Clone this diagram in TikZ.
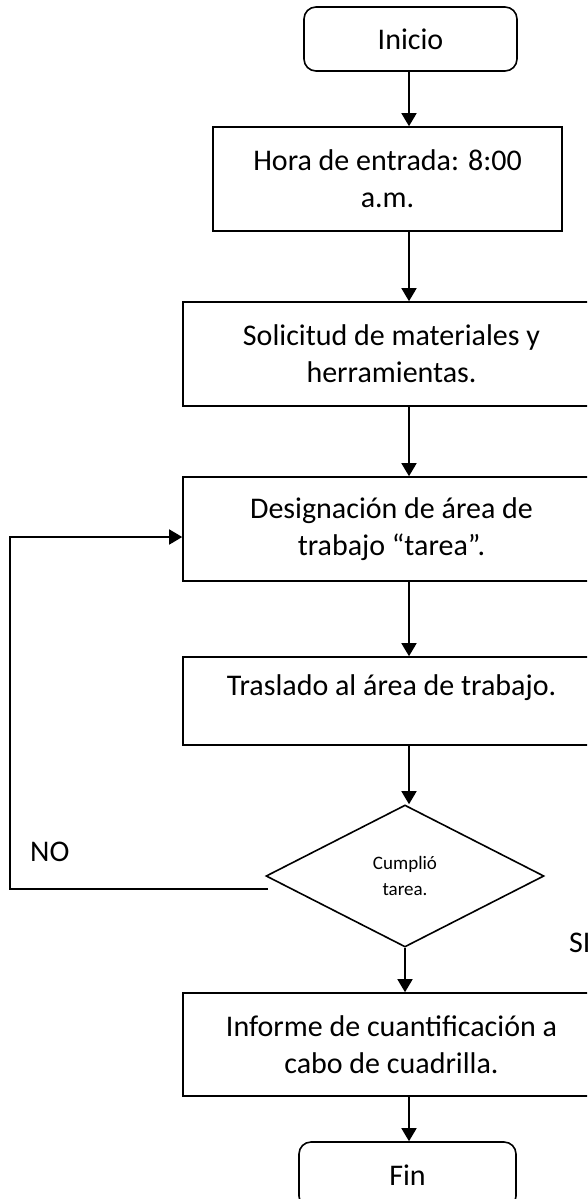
\documentclass[tikz,border=0pt]{standalone}
\usepackage{fontspec}
\setmainfont{Carlito}
\usetikzlibrary{shapes.geometric,arrows.meta}
\begin{document}
\begin{tikzpicture}[x=1pt,y=-1pt,
 box/.style={draw,line width=1.6pt,inner sep=0pt,align=center,font=\fontsize{30}{37}\selectfont},
 term/.style={box,rounded corners=12pt},
 arr/.style={line width=1.6pt,-{Triangle[length=13pt,width=15pt]}},
 lbl/.style={font=\fontsize{30}{37}\selectfont,inner sep=0pt}]
\useasboundingbox (0,0) rectangle (587,1199);
\clip (0,0) rectangle (587,1199);
\coordinate (sp) at (409,0);
\node[term,minimum width=213pt,minimum height=64pt] (ini) at (410.5,39) {Inicio};
\node[box,minimum width=349pt,minimum height=104pt] (hora) at (387.5,179) {Hora de entrada: 8:00\\a.m.};
\node[box,minimum width=417pt,minimum height=104pt] (sol) at (391.5,354) {Solicitud de materiales y\\herramientas.};
\node[box,minimum width=417pt,minimum height=104pt] (des) at (391.5,529) {Designación de área de\\trabajo “tarea”.};
\node[box,minimum width=417pt,minimum height=88pt] (tra) at (391.5,701) {};
\node[lbl] (tratxt) at (391.5,688) {Traslado al área de trabajo.};
\node[box,diamond,minimum width=278pt,minimum height=142pt,font=\fontsize{19}{26}\selectfont] (dec) at (405,876) {Cumplió\\tarea.};
\node[box,minimum width=417pt,minimum height=103pt] (inf) at (391.5,1044.5) {Informe de cuantificación a\\cabo de cuadrilla.};
\node[term,minimum width=217pt,minimum height=66pt] (fin) at (407.5,1175) {Fin};
\node[lbl,anchor=west] (no) at (30,852) {NO};
\node[lbl,anchor=west] (si) at (569,943) {SI};
\coordinate (nostart) at (268,889);
\coordinate (fb) at (10,537);
\draw[arr] (sp |- ini.south) -- (sp |- hora.north);
\draw[arr] (sp |- hora.south) -- (sp |- sol.north);
\draw[arr] (sp |- sol.south) -- (sp |- des.north);
\draw[arr] (sp |- des.south) -- (sp |- tra.north);
\draw[arr] (sp |- tra.south) -- (sp |- dec.north);
\draw[arr] (dec.south) -- (dec.south |- inf.north);
\draw[arr] (sp |- inf.south) -- (sp |- fin.north);
\draw[arr] (nostart) -| (fb) -- (fb -| des.west);
\end{tikzpicture}
\end{document}
